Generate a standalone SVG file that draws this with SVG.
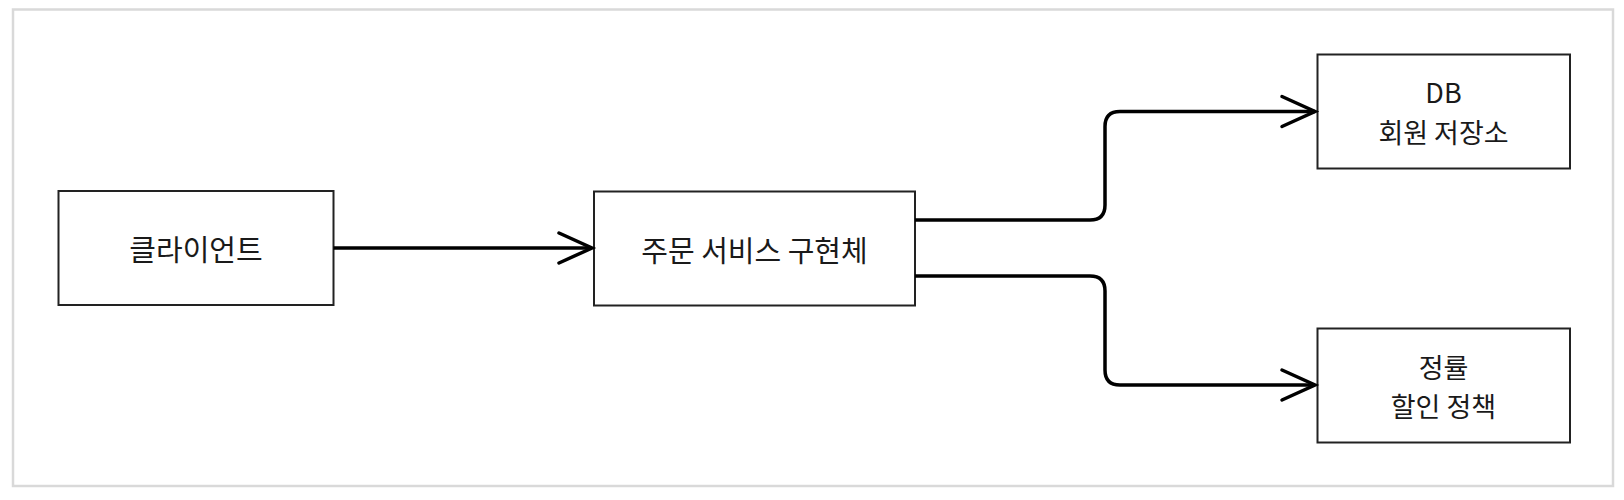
<svg xmlns="http://www.w3.org/2000/svg" width="1624" height="500" viewBox="0 0 1624 500">
<style>
.frame{fill:#fff;stroke:#d9d9d9;stroke-width:2.5}
.box{fill:#fff;stroke:#222;stroke-width:2}
.lbl{font-family:"Noto Sans CJK KR","Noto Sans",sans-serif;font-size:29px;fill:#1a1a1a;text-anchor:middle;dominant-baseline:central}
.sm{font-size:27px}
.edge{fill:none;stroke:#000;stroke-width:3.5;stroke-linejoin:round}
.head{fill:none;stroke:#000;stroke-width:3.5;stroke-linecap:round;stroke-linejoin:miter}
</style>
<rect width="1624" height="500" fill="#fff"/>
<rect class="frame" x="13" y="9.5" width="1600" height="476.5"/>
<g id="client"><rect class="box" x="58.5" y="191" width="275" height="114"/><text class="lbl" x="196" y="248">클라이언트</text></g>
<g id="service"><rect class="box" x="594" y="191.5" width="321" height="114"/><text class="lbl" x="754.5" y="248.5">주문 서비스 구현체</text></g>
<g id="db"><rect class="box" x="1317.5" y="54.5" width="252.5" height="114"/><text class="lbl sm" x="1443.5" y="91.5">DB</text><text class="lbl sm" x="1443.5" y="131">회원 저장소</text></g>
<g id="policy"><rect class="box" x="1317.5" y="328.5" width="252.5" height="114"/><text class="lbl sm" x="1443.5" y="366">정률</text><text class="lbl sm" x="1443.5" y="405.5">할인 정책</text></g>
<g id="connectors">
<path class="edge" d="M333.5 248H592"/>
<path class="head" d="M559 233L592 248L559 263"/>
<path class="edge" d="M915 220H1090Q1105 220 1105 205V126.5Q1105 111.5 1120 111.5H1315"/>
<path class="head" d="M1282 96.5L1315 111.5L1282 126.5"/>
<path class="edge" d="M915 276H1090Q1105 276 1105 291V370Q1105 385 1120 385H1315"/>
<path class="head" d="M1282 370L1315 385L1282 400"/>
</g>
</svg>
